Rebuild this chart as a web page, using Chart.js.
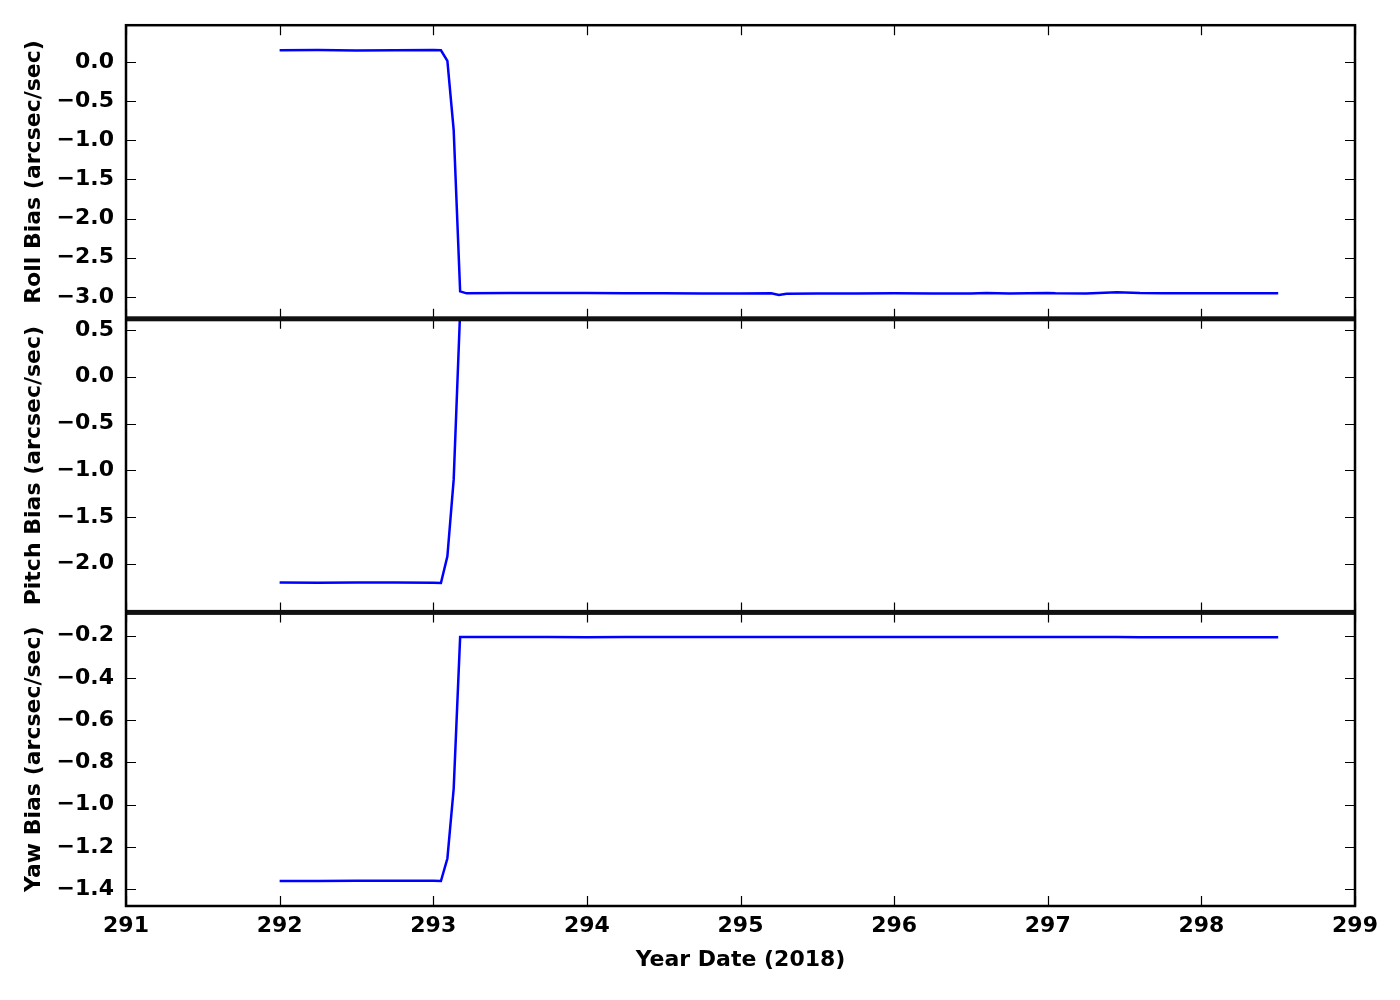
<!DOCTYPE html>
<html>
<head>
<meta charset="utf-8">
<title>Gyro bias</title>
<script src="https://cdn.jsdelivr.net/npm/chart.js@4/dist/chart.umd.min.js"></script>
<style>
  body { margin: 0; background: #fff; }
  #wrap { width: 1400px; height: 1000px; }
</style>
</head>
<body>
<div id="wrap"><canvas id="biasChart" width="1400" height="1000"></canvas></div>
<script>
// Tiempo (fecha del año 2018) y sesgos
const yearDate = [292.0, 292.25, 292.5, 292.75, 293.0, 293.05, 293.092, 293.133, 293.175, 293.217,
  293.5, 293.75, 294.0, 294.25, 294.5, 294.75, 295.0, 295.2, 295.25, 295.3, 295.5, 295.75,
  296.0, 296.25, 296.5, 296.6, 296.75, 297.0, 297.05, 297.25, 297.45, 297.6, 297.75, 298.0,
  298.25, 298.5];

const rollBias = [0.150, 0.152, 0.148, 0.150, 0.152, 0.150, 0.015, -0.870, -2.930, -2.955,
  -2.950, -2.952, -2.952, -2.955, -2.955, -2.956, -2.957, -2.955, -2.975, -2.960, -2.958, -2.958,
  -2.955, -2.957, -2.956, -2.950, -2.957, -2.950, -2.955, -2.958, -2.940, -2.952, -2.955, -2.955,
  -2.955, -2.955];

const pitchBias = [-2.200, -2.203, -2.200, -2.200, -2.203, -2.205, -1.920, -1.100, 0.700, 0.700,
  0.700, 0.700, 0.700, 0.700, 0.700, 0.700, 0.700, 0.700, 0.700, 0.700, 0.700, 0.700,
  0.700, 0.700, 0.700, 0.700, 0.700, 0.700, 0.700, 0.700, 0.700, 0.700, 0.700, 0.700,
  0.700, 0.700];

const yawBias = [-1.362, -1.362, -1.360, -1.361, -1.361, -1.362, -1.255, -0.925, -0.207, -0.207,
  -0.207, -0.207, -0.208, -0.207, -0.207, -0.207, -0.207, -0.207, -0.207, -0.207, -0.207, -0.207,
  -0.206, -0.207, -0.207, -0.207, -0.207, -0.207, -0.207, -0.207, -0.207, -0.208, -0.208, -0.208,
  -0.208, -0.208];

// Marcas de los ejes
const rollTicks = [-3.0, -2.5, -2.0, -1.5, -1.0, -0.5, 0.0];
const pitchTicks = [-2.0, -1.5, -1.0, -0.5, 0.0, 0.5];
const yawTicks = [-1.4, -1.2, -1.0, -0.8, -0.6, -0.4, -0.2];

const TICK_LEN = 10;
const panelIds = ['yRoll', 'yPitch', 'yYaw'];

Chart.defaults.font.family = '"DejaVu Sans", sans-serif';
Chart.defaults.font.weight = 'bold';
Chart.defaults.font.size = 22;
Chart.defaults.color = '#000';

const fmt = v => (v < 0 ? '\u2212' : '') + Math.abs(v).toFixed(1);

// Recorta cada serie a su panel y dibuja marcos y marcas hacia dentro
const panelFrame = {
  id: 'panelFrame',
  beforeDatasetDraw(chart, args) {
    const s = chart.scales[args.meta.yAxisID];
    const a = chart.chartArea;
    chart.ctx.save();
    chart.ctx.beginPath();
    chart.ctx.rect(a.left, s.top, a.right - a.left, s.bottom - s.top);
    chart.ctx.clip();
  },
  afterDatasetDraw(chart) {
    chart.ctx.restore();
  },
  afterDraw(chart) {
    const ctx = chart.ctx;
    const a = chart.chartArea;
    const xs = chart.scales.x;
    ctx.save();
    ctx.strokeStyle = '#000';
    ctx.fillStyle = '#111';
    panelIds.forEach(id => {
      const s = chart.scales[id];
      ctx.lineWidth = 1.2;
      ctx.beginPath();
      s.ticks.forEach(t => {
        const py = Math.round(s.getPixelForValue(t.value)) + 0.5;
        ctx.moveTo(a.left, py); ctx.lineTo(a.left + TICK_LEN, py);
        ctx.moveTo(a.right, py); ctx.lineTo(a.right - TICK_LEN, py);
      });
      xs.ticks.forEach(t => {
        const px = Math.round(xs.getPixelForValue(t.value)) + 0.5;
        ctx.moveTo(px, s.top); ctx.lineTo(px, s.top + TICK_LEN);
        ctx.moveTo(px, s.bottom); ctx.lineTo(px, s.bottom - TICK_LEN);
      });
      ctx.stroke();
      if (s.top > a.top + 1) {
        ctx.fillRect(a.left, s.top - 2.5, a.right - a.left, 5);
      }
    });
    ctx.lineWidth = 2.5;
    ctx.strokeRect(a.left, a.top, a.right - a.left, a.bottom - a.top);
    ctx.restore();
  }
};

function yScale(title, min, max, tickList) {
  return {
    type: 'linear',
    position: 'left',
    stack: 'bias',
    stackWeight: 1,
    min: min,
    max: max,
    afterBuildTicks: scale => { scale.ticks = tickList.map(v => ({ value: v })); },
    afterFit: scale => { scale.width = 126; },
    grid: { display: false, drawTicks: false },
    border: { display: false },
    ticks: { padding: 12, autoSkip: false, callback: v => fmt(v) },
    title: { display: true, text: title, padding: { top: 21, bottom: 0 } }
  };
}

function series(values, axis) {
  return {
    data: yearDate.map((x, i) => ({ x: x, y: values[i] })),
    yAxisID: axis,
    borderColor: '#0000ff',
    borderWidth: 2.5,
    pointRadius: 0,
    tension: 0,
    fill: false
  };
}

new Chart(document.getElementById('biasChart'), {
  type: 'line',
  data: {
    datasets: [
      series(rollBias, 'yRoll'),
      series(pitchBias, 'yPitch'),
      series(yawBias, 'yYaw')
    ]
  },
  options: {
    responsive: false,
    animation: false,
    layout: { padding: { top: 24, right: 45, left: 0, bottom: 0 } },
    plugins: { legend: { display: false }, tooltip: { enabled: false } },
    scales: {
      x: {
        type: 'linear',
        min: 291,
        max: 299,
        afterFit: scale => { scale.height = 94; },
        grid: { display: false, drawTicks: false },
        border: { display: false },
        ticks: { stepSize: 1, padding: 7, autoSkip: false, maxRotation: 0, callback: v => String(v) },
        title: { display: true, text: 'Year Date (2018)', padding: { top: 0, bottom: 27 } }
      },
      // el primer eje de la pila queda abajo
      yYaw: yScale('Yaw Bias (arcsec/sec)', -1.48, -0.09, yawTicks),
      yPitch: yScale('Pitch Bias (arcsec/sec)', -2.52, 0.62, pitchTicks),
      yRoll: yScale('Roll Bias (arcsec/sec)', -3.28, 0.47, rollTicks)
    }
  },
  plugins: [panelFrame]
});
</script>
</body>
</html>
